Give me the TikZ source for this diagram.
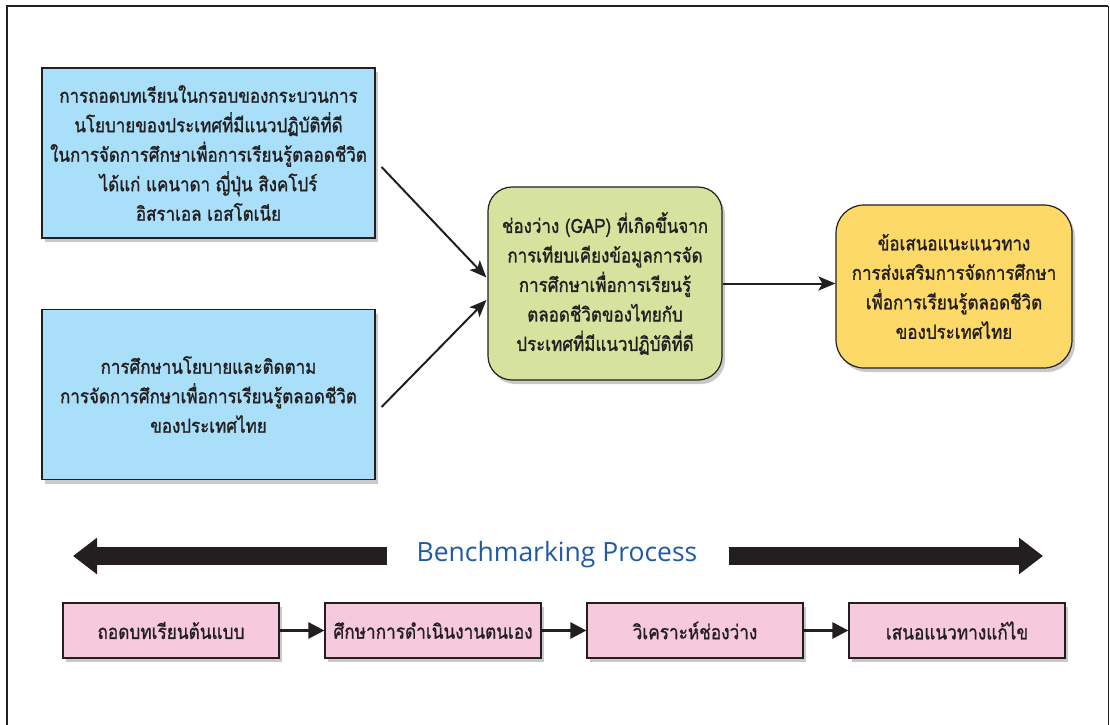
\documentclass[tikz,border=0pt]{standalone}
\usepackage{fontspec}
\newfontfamily\thaifont[Script=Thai, FakeStretch=0.87, FakeBold=1.3]{Loma}
\newfontfamily\stepfont[Script=Thai, FakeStretch=0.86, FakeBold=1]{Loma}
\newfontfamily\benchfont{Open Sans}
\usetikzlibrary{positioning,shadows,arrows.meta}

\definecolor{inkgray}{HTML}{231F20}
\definecolor{skyblue}{HTML}{A9DFF8}
\definecolor{gapgreen}{HTML}{D5E39E}
\definecolor{ideayellow}{HTML}{FDD967}
\definecolor{steppink}{HTML}{F7C9DD}
\definecolor{benchblue}{HTML}{1F5AA6}

\begin{document}
\begin{tikzpicture}[x=1pt, y=-1pt, node distance=262pt, on grid,
  box/.style={draw=inkgray, line width=1.2pt, text=inkgray, align=center, inner sep=0pt,
    font=\thaifont\fontsize{19.5}{29.5}\selectfont,
    drop shadow={shadow xshift=3pt, shadow yshift=-4pt, fill=black!30, opacity=.7}},
  polbox/.style={box, fill=skyblue, minimum width=333pt, minimum height=170pt},
  gapbox/.style={box, fill=gapgreen, rounded corners=24pt, minimum width=234pt, minimum height=193pt},
  ideabox/.style={box, fill=ideayellow, rounded corners=28pt, minimum width=236pt, minimum height=163pt},
  stepbox/.style={box, fill=steppink, minimum width=216pt, minimum height=55pt,
    font=\stepfont\fontsize{20}{22}\selectfont},
  feed/.style={line width=2pt, draw=inkgray, -{Stealth[length=17pt, width=14pt, inset=4pt]}},
  next/.style={line width=2.8pt, draw=inkgray, -{Triangle[length=16pt, width=16pt]}},
  bigarrow/.style={line width=18pt, draw=inkgray, -{Triangle[length=24pt, width=35pt]}}
]
\path[use as bounding box, clip] (0,0) rectangle (1110,724);

\draw[line width=2.5pt, inkgray] (7,760) -- (7,6) -- (1108,6);
\draw[line width=1pt, inkgray] (1108,6) -- (1108,760);

\node[polbox] (lesson) at (208.5,153) {การถอดบทเรียนในกรอบของกระบวนการ\\นโยบายของประเทศที่มีแนวปฏิบัติที่ดี\\ในการจัดการศึกษาเพื่อการเรียนรู้ตลอดชีวิต\\ได้แก่ แคนาดา ญี่ปุ่น สิงคโปร์\\อิสราเอล เอสโตเนีย};
\node[polbox, below=241.5pt of lesson] (policy) {การศึกษานโยบายและติดตาม\\การจัดการศึกษาเพื่อการเรียนรู้ตลอดชีวิต\\ของประเทศไทย};
\node[gapbox] (gap) at (605,283.5) {ช่องว่าง (GAP) ที่เกิดขึ้นจาก\\การเทียบเคียงข้อมูลการจัด\\การศึกษาเพื่อการเรียนรู้\\ตลอดชีวิตของไทยกับ\\ประเทศที่มีแนวปฏิบัติที่ดี};
\node[ideabox] (idea) at (954,286.5) {ข้อเสนอแนะแนวทาง\\การส่งเสริมการจัดการศึกษา\\เพื่อการเรียนรู้ตลอดชีวิต\\ของประเทศไทย};

\node[text=benchblue, font=\benchfont\fontsize{26.5}{30}\selectfont, inner sep=0pt] (bench) at (557,555) {Benchmarking Process};
\coordinate (bm_l) at (73,556);
\coordinate (bm_r) at (1043,556);

\node[stepbox] (st_1) at (171,630.5) {ถอดบทเรียนต้นแบบ};
\node[stepbox, right=of st_1] (st_2) {ศึกษาการดำเนินงานตนเอง};
\node[stepbox, right=of st_2] (st_3) {วิเคราะห์ช่องว่าง};
\node[stepbox, right=of st_3] (st_4) {เสนอแนวทางแก้ไข};

\draw[feed] ([shift={(6,14)}]lesson.east) -- ([shift={(-1,-6)}]gap.west);
\draw[feed] ([shift={(6,12.5)}]policy.east) -- ([shift={(-1,16.5)}]gap.west);
\draw[feed] (gap.east) -- (gap.east -| idea.west);

\draw[next] (st_1) -- (st_2);
\draw[next] (st_2) -- (st_3);
\draw[next] (st_3) -- (st_4);

\draw[bigarrow] ([xshift=-29pt]bench.west |- bm_l) -- (bm_l);
\draw[bigarrow] ([xshift=31pt]bench.east |- bm_r) -- (bm_r);
\end{tikzpicture}
\end{document}
